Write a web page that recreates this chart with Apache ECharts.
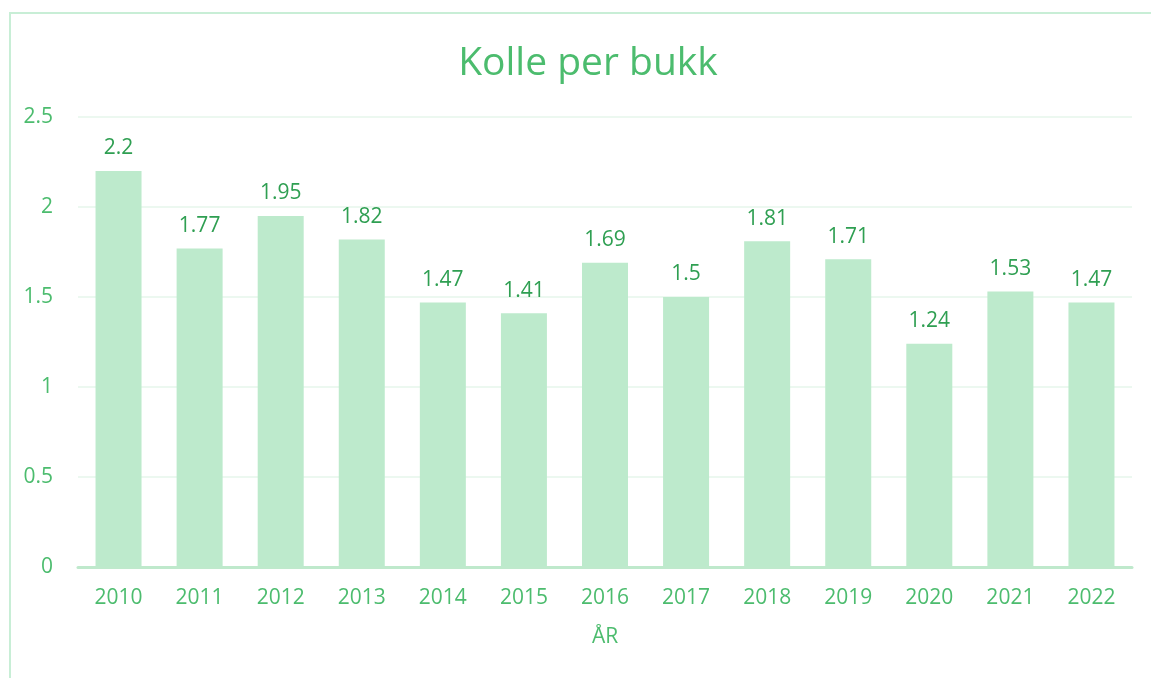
<!DOCTYPE html>
<html><head><meta charset="utf-8">
<script src="https://cdn.jsdelivr.net/npm/echarts@6/dist/echarts.min.js"></script>
<style>html,body{margin:0;padding:0;background:#fff}#c{width:1151px;height:678px}</style>
</head><body><div id="c"></div>
<script>
const years = ['2010','2011','2012','2013','2014','2015','2016','2017','2018','2019','2020','2021','2022'];
const kollePerBukk = [2.2,1.77,1.95,1.82,1.47,1.41,1.69,1.5,1.81,1.71,1.24,1.53,1.47];
const yTicks = [0,0.5,1,1.5,2,2.5];
const FONT = '"Open Sans", "Noto Sans", sans-serif';
const chart = echarts.init(document.getElementById('c'));
chart.setOption({
  animation:false,
  backgroundColor:'#fff',
  graphic:[{type:'rect',shape:{x:10,y:13,width:1200,height:700},style:{fill:'none',stroke:'#c8eed6',lineWidth:2},silent:true}],
  title:{text:'Kolle per bukk',left:583,textAlign:'center',top:39,textStyle:{fontFamily:FONT,fontWeight:'normal',fontSize:39,color:'#4cbc6e'}},
  grid:{left:78,right:19,top:117,bottom:111},
  xAxis:{type:'category',data:years,name:'ÅR',nameLocation:'middle',nameGap:60,
    nameTextStyle:{fontFamily:FONT,fontSize:21,color:'#4cbc6e'},
    axisLine:{lineStyle:{color:'#bfe9cc',width:3}},axisTick:{show:false},
    axisLabel:{fontFamily:FONT,fontSize:21,color:'#4cbc6e',margin:21}},
  yAxis:{type:'value',min:0,max:2.5,interval:0.5,
    axisLine:{show:false},axisTick:{show:false},
    splitLine:{lineStyle:{color:'#ecf8f0',width:2}},
    axisLabel:{fontFamily:FONT,fontSize:21,color:'#4cbc6e',margin:25,
      formatter:v=>yTicks.includes(v)?String(v):''}},
  series:[{type:'bar',data:kollePerBukk,barWidth:46,
    itemStyle:{color:'#bdeacc'},
    label:{show:true,position:'top',distance:12,fontFamily:FONT,fontSize:21,color:'#2f9f52'}}]
});
</script></body></html>
